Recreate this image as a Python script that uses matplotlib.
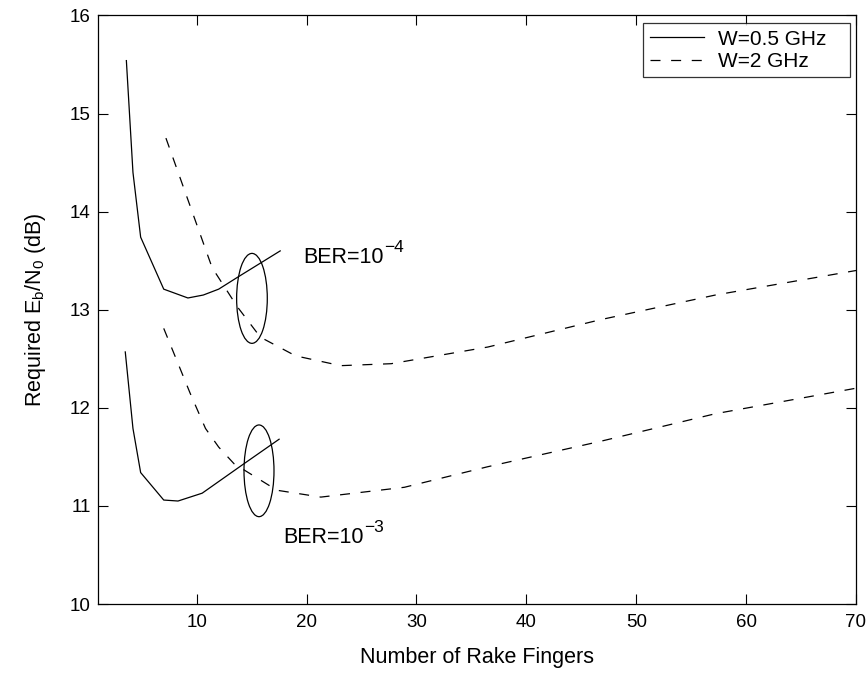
import matplotlib
matplotlib.use("Agg")
import matplotlib.pyplot as plt
from matplotlib.patches import Ellipse
from matplotlib.offsetbox import AnchoredOffsetbox

plt.rcParams['font.family'] = ['Liberation Sans', 'DejaVu Sans']
plt.rcParams['mathtext.fontset'] = 'custom'
plt.rcParams['mathtext.rm'] = 'Liberation Sans'
plt.rcParams['mathtext.it'] = 'Liberation Sans'

# W = 0.5 GHz (solid)
x_05_e4 = [3.6, 4.2, 4.9, 7.0, 9.2, 10.6, 12.0, 13.7, 17.6]
y_05_e4 = [15.54, 14.40, 13.74, 13.21, 13.12, 13.15, 13.21, 13.33, 13.60]
x_05_e3 = [3.5, 4.2, 4.9, 7.0, 8.3, 10.5, 14.3, 17.5]
y_05_e3 = [12.57, 11.79, 11.34, 11.06, 11.05, 11.13, 11.43, 11.68]

# W = 2 GHz (dashed)
x_2_e4 = [7.2, 11.4, 13.7, 15.8, 19.0, 23.1, 27.7, 36.5, 46.8, 57.2, 70.0]
y_2_e4 = [14.75, 13.43, 13.03, 12.72, 12.53, 12.43, 12.45, 12.62, 12.90, 13.15, 13.40]
x_2_e3 = [7.0, 9.4, 10.8, 12.0, 13.4, 17.3, 21.3, 28.9, 36.5, 46.8, 57.2, 70.0]
y_2_e3 = [12.81, 12.15, 11.79, 11.60, 11.43, 11.16, 11.09, 11.19, 11.40, 11.66, 11.94, 12.20]

legend_labels = ['W=0.5 GHz', 'W=2 GHz']
x_ticks = [10, 20, 30, 40, 50, 60, 70]
y_ticks = [10, 11, 12, 13, 14, 15, 16]

fig = plt.figure(figsize=(8.67, 6.73), dpi=100)
ax = fig.add_axes([0.1128, 0.1025, 0.9873 - 0.1128, 0.977 - 0.1025])

lw = 0.9
dash = (8.0, 8.5)
l1, = ax.plot(x_05_e4, y_05_e4, color='black', lw=lw, label=legend_labels[0])
ax.plot(x_05_e3, y_05_e3, color='black', lw=lw)
l2, = ax.plot(x_2_e4, y_2_e4, color='black', lw=lw, dashes=dash, label=legend_labels[1])
ax.plot(x_2_e3, y_2_e3, color='black', lw=lw, dashes=dash)

# grouping ellipses around the curve crossings
ax.add_patch(Ellipse((15.03, 13.116), 2.79, 0.917, fill=False, ec='black', lw=lw))
ax.add_patch(Ellipse((15.67, 11.358), 2.73, 0.935, fill=False, ec='black', lw=lw))

ax.set_xlim(1, 70)
ax.set_ylim(10, 16)


def ber_label(x, y, exponent):
    """Write 'BER=10' with a raised exponent right after it."""
    base = ax.text(x, y, 'BER=10', fontsize=15.5, va='baseline', ha='left')
    fig.canvas.draw()
    bb = base.get_window_extent()
    ax.annotate('\u2212' + exponent, xy=(bb.x1, 0), xycoords=('figure pixels', 'figure pixels'),
                xytext=(0.5, 0), textcoords='offset points', fontsize=12.5,
                va='baseline', ha='left', annotation_clip=False)
    # place the exponent's baseline above the main baseline
    ann = ax.texts[-1]
    y_base = ax.transData.transform((x, y))[1]
    ann.xy = (bb.x1, y_base + 11)


ber_label(19.67, 13.48, '4')
ber_label(17.88, 10.62, '3')

ax.set_xticks(x_ticks)
ax.set_yticks(y_ticks)
ax.tick_params(direction='in', length=7, width=0.8, top=True, right=True, labelsize=13.5)
ax.tick_params(axis='x', pad=7)
ax.tick_params(axis='y', pad=5)
for s in ax.spines.values():
    s.set_linewidth(0.9)

ax.set_xlabel('Number of Rake Fingers', fontsize=15.5, labelpad=12)
ax.set_ylabel('Required E$_{\\mathregular{b}}$/N$_{\\mathregular{0}}$ (dB)', fontsize=15.5, labelpad=16)

leg = ax.legend(handles=[l1, l2], loc='upper left',
                bbox_to_anchor=(0.7196, 0.0, 0.2727, 0.9865), mode='expand',
                fontsize=15, frameon=True, fancybox=False, handlelength=2.6,
                handletextpad=0.7, borderpad=0.3, labelspacing=0.15, borderaxespad=0.0)
leg.get_frame().set_edgecolor('black')
leg.get_frame().set_linewidth(0.9)

fig.savefig('out.png', dpi=100)
